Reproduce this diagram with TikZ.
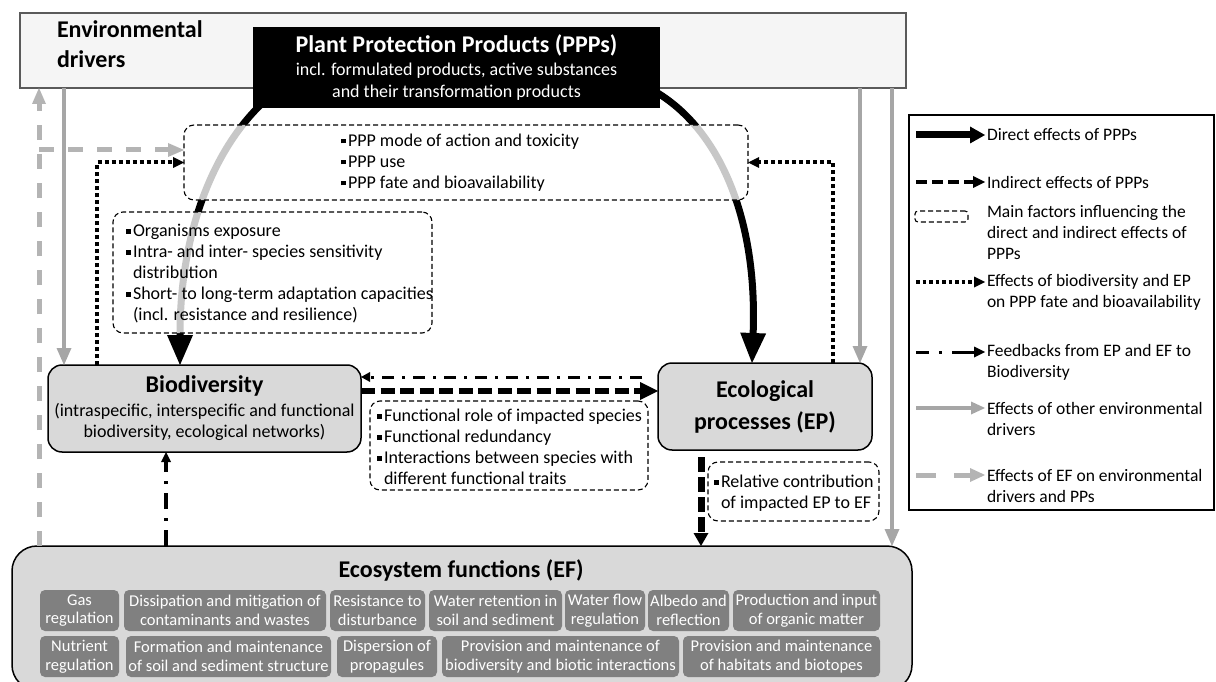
\documentclass[tikz,border=0pt]{standalone}
\usepackage{fontspec}
\setmainfont{Carlito}
\usetikzlibrary{arrows.meta,calc}
\definecolor{envfill}{RGB}{245,245,245}
\definecolor{envline}{RGB}{90,90,90}
\definecolor{boxfill}{RGB}{217,217,217}
\definecolor{effill}{RGB}{128,128,128}
\definecolor{grayarrow}{RGB}{166,166,166}
\definecolor{graydash}{RGB}{180,180,180}
\newcommand\bul{\makebox[7pt][l]{\raisebox{0.35ex}{\rule{4.5pt}{4.5pt}}}}
\newcommand\ind{\hspace*{7pt}}
\begin{document}
\begin{tikzpicture}[x=1pt,y=-1pt,
  every node/.style={inner sep=0pt,outer sep=0pt},
  body/.style={font=\fontsize{18}{21}\selectfont, align=left},
  legtext/.style={font=\fontsize{17.5}{21}\selectfont, align=left, anchor=west},
  envbox/.style={draw=envline, line width=1.5pt, fill=envfill},
  mainbox/.style={draw=black, line width=1.5pt, fill=boxfill, rounded corners=14pt},
  factor/.style={draw=black, line width=1.1pt, dash pattern=on 5pt off 3pt, rounded corners=10pt, fill=white, fill opacity=0.78},
  efitem/.style={fill=effill, rounded corners=5pt, text=white, font=\fontsize{16.5}{18.5}\selectfont, align=center, minimum height=41pt},
  direct/.style={line width=7pt, -{Triangle[width=26pt,length=30pt,line width=0pt]}},
  indirect/.style={line width=6.5pt, dash pattern=on 14pt off 5.5pt, -{Triangle[width=18pt,length=18pt,line width=0pt]}},
  indirectv/.style={line width=7pt, dash pattern=on 15pt off 5pt, -{Triangle[width=15pt,length=13pt,line width=0pt]}},
  feedback/.style={line width=3pt, dash pattern=on 12pt off 8pt on 3pt off 8pt, -{Triangle[width=10pt,length=9pt,line width=0pt]}},
  feedbackv/.style={line width=3.5pt, dash pattern=on 16pt off 9pt on 3pt off 9pt, -{Triangle[width=10pt,length=10pt,line width=0pt]}},
  bioeffect/.style={line width=4pt, dash pattern=on 4pt off 3pt, -{Triangle[width=11pt,length=11pt,line width=0pt]}},
  envdriver/.style={grayarrow, line width=4.5pt, -{Triangle[width=15pt,length=17pt,line width=0pt]}},
  efeffect/.style={graydash, line width=5pt, dash pattern=on 15pt off 14pt, -{Triangle[width=14pt,length=16pt,line width=0pt]}}
]
\useasboundingbox (0,0) rectangle (1216,682);
\clip (0,0) rectangle (1216,682);
\fill[white] (0,0) rectangle (1216,682);

% environmental drivers
\node[envbox, minimum width=886pt, minimum height=75pt] (env) at (463,50.5) {};
\node[anchor=west, font=\bfseries\fontsize{24}{30}\selectfont, align=left] (envlbl) at (57,44) {Environmental\\drivers};

% main boxes
\node[mainbox, minimum width=313pt, minimum height=87pt, align=center, font=\fontsize{18}{21.5}\selectfont] (bio) at (204.5,408.5)
  {{\bfseries\fontsize{24}{28}\selectfont Biodiversity}\\[2pt](intraspecific, interspecific and functional\\biodiversity, ecological networks)};
\node[mainbox, minimum width=214pt, minimum height=87pt, align=center, font=\bfseries\fontsize{24}{32}\selectfont] (ep) at (765,406.5)
  {Ecological\\processes (EP)};
\node[mainbox, rounded corners=25pt, minimum width=900pt, minimum height=144pt] (ef) at (462,618) {};
\node[font=\bfseries\fontsize{24}{28}\selectfont] (eftitle) at (461,570) {Ecosystem functions (EF)};

% ecosystem function items
\node[efitem, minimum width=79pt] (f1) at (79.5,610.5) {Gas\\regulation};
\node[efitem, minimum width=202pt] (f2) at (225,610.5) {Dissipation and mitigation of\\contaminants and wastes};
\node[efitem, minimum width=95pt] (f3) at (377.5,610.5) {Resistance to\\disturbance};
\node[efitem, minimum width=133pt] (f4) at (495.5,610.5) {Water retention in\\soil and sediment};
\node[efitem, minimum width=80pt] (f5) at (605,610.5) {Water flow\\regulation};
\node[efitem, minimum width=81pt] (f6) at (688.5,610.5) {Albedo and\\reflection};
\node[efitem, minimum width=147pt] (f7) at (806.5,610.5) {Production and input\\of organic matter};
\node[efitem, minimum width=79pt] (g1) at (79.5,656.5) {Nutrient\\regulation};
\node[efitem, minimum width=205pt] (g2) at (228.5,656.5) {Formation and maintenance\\of soil and sediment structure};
\node[efitem, minimum width=100pt] (g3) at (387,656.5) {Dispersion of\\propagules};
\node[efitem, minimum width=237pt] (g4) at (560.5,656.5) {Provision and maintenance of\\biodiversity and biotic interactions};
\node[efitem, minimum width=197pt] (g5) at (781.5,656.5) {Provision and maintenance\\of habitats and biotopes};

% direct effect arcs (start hidden under the PPP box)
\coordinate (pl) at (275,92);
\coordinate (pr) at (625,78);
\draw[direct] (pl) .. controls (215,140) and (180,230) .. ([xshift=-24.5pt]bio.north);
\draw[direct] (pr) .. controls (710,105) and (758,205) .. ([xshift=-13pt]ep.north);

% PPP box
\node[fill=black, minimum width=407pt, minimum height=81pt, text=white, align=center, font=\fontsize{18}{22}\selectfont] (ppp) at (456.5,67.5)
  {{\bfseries\fontsize{24}{26}\selectfont Plant Protection Products (PPPs)}\\[1pt]incl. formulated products, active substances\\and their transformation products};

% factor boxes
\node[factor, minimum width=564pt, minimum height=75pt] (topbox) at (466,162.5) {};
\node[body, anchor=west] (toptxt) at (341,162.5) {\bul PPP mode of action and toxicity\\\bul PPP use\\\bul PPP fate and bioavailability};
\node[factor, minimum width=319pt, minimum height=121pt] (leftbox) at (272.5,272.5) {};
\node[body, anchor=west] (lefttxt) at (126,274) {\bul Organisms exposure\\\bul Intra- and inter- species sensitivity\\\ind distribution\\\bul Short- to long-term adaptation capacities\\\ind (incl. resistance and resilience)};
\node[factor, minimum width=278pt, minimum height=89pt] (midbox) at (509,445.5) {};
\node[body, anchor=west] (midtxt) at (377,447) {\bul Functional role of impacted species\\\bul Functional redundancy\\\bul Interactions between species with\\\ind different functional traits};
\node[factor, minimum width=171pt, minimum height=59pt] (smallbox) at (793.5,491.5) {};
\node[body, anchor=west] (smalltxt) at (714,493.5) {\bul Relative contribution\\\ind of impacted EP to EF};

% x positions of vertical connectors
\coordinate (gx0) at (39,0);
\coordinate (gx1) at (64,0);
\coordinate (dx1) at (97,0);
\coordinate (fx) at (166,0);
\coordinate (ex) at (701,0);
\coordinate (dx2) at (833,0);
\coordinate (gx2) at (860,0);
\coordinate (gx3) at (892,0);
\coordinate (gy) at (0,150);

% environmental drivers
\draw[envdriver] (env.south -| gx1) -- (bio.north -| gx1);
\draw[envdriver] (env.south -| gx2) -- (ep.north -| gx2);
\draw[envdriver] (env.south -| gx3) -- (ef.north -| gx3);
% effects of EF on drivers
\draw[efeffect] (ef.north -| gx0) -- (env.south -| gx0);
\draw[efeffect] (gx0 |- gy) -- (topbox.west |- gy);
% effects of biodiversity and EP on PPP fate
\draw[bioeffect] (bio.north -| dx1) |- (topbox.west);
\draw[bioeffect] (ep.north -| dx2) |- (topbox.east);
% indirect effects
\draw[indirect] ([yshift=17.5pt]bio.east) -- ([yshift=17.5pt]bio.east -| ep.west);
\draw[indirectv, shorten <=7pt] (ep.south -| ex) -- (ef.north -| ex);
% feedbacks
\draw[feedback, shorten <=16pt] ([yshift=31.5pt]bio.east -| ep.west) -- ([yshift=31.5pt]bio.east);
\draw[feedbackv] (ef.north -| fx) -- (bio.south -| fx);

% legend
\node[draw=black, line width=2pt, minimum width=305pt, minimum height=395pt] (legend) at (1061,312.5) {};
\coordinate (l1a) at (916,135); \coordinate (l1b) at (985,135);
\coordinate (l2a) at (916,182); \coordinate (l2b) at (985,182);
\coordinate (l4a) at (916,282); \coordinate (l4b) at (985,282);
\coordinate (l5a) at (916,352); \coordinate (l5b) at (985,352);
\coordinate (l6a) at (916,408); \coordinate (l6b) at (985,408);
\coordinate (l7a) at (916,475); \coordinate (l7b) at (985,475);
\draw[line width=7pt, -{Triangle[width=17pt,length=15pt,line width=0pt]}] (l1a) -- (l1b);
\draw[line width=4.5pt, dash pattern=on 11pt off 5pt, -{Triangle[width=12pt,length=12pt,line width=0pt]}] (l2a) -- (l2b);
\node[draw=black, line width=1.1pt, dash pattern=on 5pt off 3pt, rounded corners=3pt, minimum width=53pt, minimum height=11pt] (l3icon) at (941.5,216.5) {};
\draw[line width=3.5pt, dash pattern=on 3.5pt off 3pt, -{Triangle[width=11pt,length=11pt,line width=0pt]}] (l4a) -- (l4b);
\draw[line width=3pt, dash pattern=on 13pt off 10pt on 3pt off 10pt on 40pt off 0pt, -{Triangle[width=11pt,length=11pt,line width=0pt]}] (l5a) -- (l5b);
\draw[grayarrow, line width=4pt, -{Triangle[width=13pt,length=14pt,line width=0pt]}] (l6a) -- (l6b);
\draw[graydash, line width=5pt, dash pattern=on 20pt off 18pt on 40pt off 0pt, -{Triangle[width=14pt,length=15pt,line width=0pt]}] (l7a) -- (l7b);
\node[legtext] (lt1) at (987,135) {Direct effects of PPPs};
\node[legtext] (lt2) at (987,182) {Indirect effects of PPPs};
\node[legtext] (lt3) at (987,232.5) {Main factors influencing the\\direct and indirect effects of\\PPPs};
\node[legtext] (lt4) at (987,292.5) {Effects of biodiversity and EP\\on PPP fate and bioavailability};
\node[legtext] (lt5) at (987,362.5) {Feedbacks from EP and EF to\\Biodiversity};
\node[legtext] (lt6) at (987,419) {Effects of other environmental\\drivers};
\node[legtext] (lt7) at (987,485.5) {Effects of EF on environmental\\drivers and PPs};
\end{tikzpicture}
\end{document}
